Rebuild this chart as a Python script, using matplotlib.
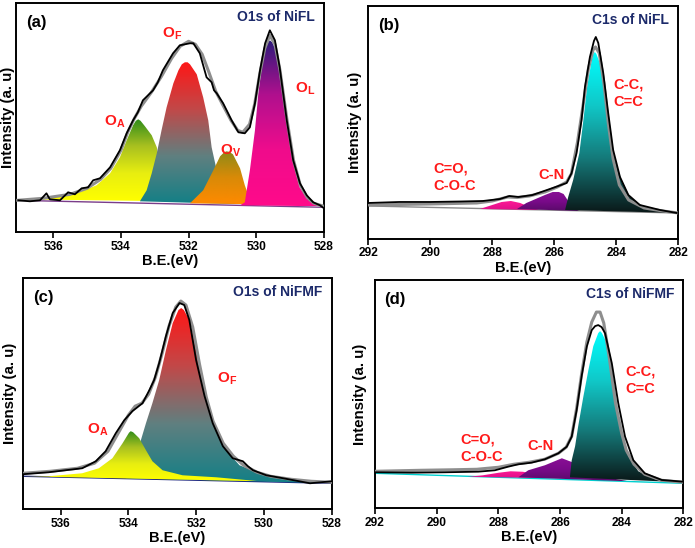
import numpy as np
import matplotlib
matplotlib.use("Agg")
import matplotlib.pyplot as plt
from matplotlib.patches import Polygon
from matplotlib.colors import LinearSegmentedColormap

plt.rcParams['font.family'] = ['Liberation Sans', 'DejaVu Sans']
plt.rcParams['font.weight'] = 'bold'
plt.rcParams['mathtext.fontset'] = 'custom'
plt.rcParams['mathtext.bf'] = 'Liberation Sans:bold'
plt.rcParams['mathtext.rm'] = 'Liberation Sans:bold'

# ---------------- panel (a): O1s of NiFL ----------------
a_raw_x = [537.03, 536.69, 536.39, 536.20, 536.10, 535.80, 535.56, 535.36, 535.16, 534.97,
           534.82, 534.62, 534.32, 534.03, 533.83, 533.64, 533.50, 533.35, 533.05, 532.91,
           532.76, 532.46, 532.26, 531.96, 531.86, 531.67, 531.47, 531.32, 531.25, 531.17,
           530.98, 530.73, 530.53, 530.34, 530.19, 530.04, 529.89, 529.74, 529.60, 529.45,
           529.31, 529.10, 528.91, 528.71, 528.51, 528.32, 528.12, 528.0]
a_raw_y = [32, 31, 32, 39, 33, 32, 40, 38, 44, 45,
           52, 54, 65, 82, 99, 112, 120, 132, 142, 150,
           162, 179, 187, 189, 189, 179, 155, 150, 142, 139,
           129, 112, 100, 99, 105, 129, 162, 189, 202, 192,
           165, 112, 72, 49, 37, 30, 27, 24]
a_env_x = [537.05, 536.3, 535.5, 535.0, 534.6, 534.3, 534.0, 533.8, 533.6, 533.4, 533.1, 532.8,
           532.5, 532.25, 532.0, 531.8, 531.6, 531.4, 531.2, 531.0, 530.75, 530.55, 530.4, 530.2,
           530.05, 529.9, 529.75, 529.6, 529.45, 529.3, 529.1, 528.9, 528.7, 528.5, 528.3, 528.0]
a_env_y = [32, 34, 38, 44, 53, 64, 82, 100, 114, 126, 140, 156,
           174, 186, 191, 188, 178, 160, 141, 128, 112, 102, 100, 108,
           128, 158, 184, 197, 188, 162, 114, 72, 47, 35, 29, 26]
a_base_x = [537.1, 528.0]
a_base_y = [32, 25]

a_OA_x = [537.04, 536.30, 535.31, 534.72, 534.32, 534.03, 533.83, 533.64, 533.56, 533.49,
          533.42, 533.29, 533.09, 532.94, 532.85, 532.75, 532.55, 532.35]
a_OA_y = [33, 34, 39, 47, 59, 75, 92, 107, 111.5, 113, 111.5, 106, 97, 85, 69, 52, 39, 31]
a_OF_x = [533.44, 533.24, 533.09, 532.94, 532.80, 532.65, 532.45, 532.30, 532.20, 532.11,
          532.03, 531.96, 531.76, 531.57, 531.42, 531.32, 531.17, 530.98, 530.68, 530.29]
a_OF_y = [31, 42, 59, 79, 102, 125, 149, 162, 168, 170, 170, 168, 158, 135, 112, 85, 62, 42,
          30, 28]
a_OV_x = [531.96, 531.57, 531.27, 531.07, 530.95, 530.88, 530.80, 530.69, 530.48, 530.34,
          530.19, 530.01]
a_OV_y = [29, 42, 62, 76, 80, 81, 80.5, 78, 64, 47, 33, 28]
a_OL_x = [530.48, 530.34, 530.19, 530.04, 529.94, 529.84, 529.74, 529.67, 529.60, 529.53,
          529.45, 529.31, 529.16, 529.01, 528.87, 528.72, 528.51, 528.22, 528.0]
a_OL_y = [27, 30, 62, 102, 139, 165, 182, 189, 192, 190, 184, 162, 129, 95, 65, 45, 34, 29, 26]

# ---------------- panel (b): C1s of NiFL ----------------
b_raw_x = [292.0, 291.0, 290.0, 289.0, 288.3, 287.75, 287.45, 287.15, 286.7, 286.14, 285.6,
           285.44, 285.28, 285.12, 285.01, 284.85, 284.72, 284.66, 284.58, 284.42, 284.26,
           284.10, 283.88, 283.61, 283.24, 282.59, 282.05]
b_raw_y = [36, 37, 37, 37.5, 38, 40, 43, 42, 44, 50, 56,
           66, 86, 119, 152, 182, 198, 202, 196, 166, 126,
           89, 62, 44, 34, 29, 26]
b_env_x = [292, 290, 288.5, 288, 287.5, 287.2, 286.8, 286.3, 285.9, 285.6, 285.45, 285.25,
           285.05, 284.9, 284.75, 284.67, 284.55, 284.4, 284.25, 284.1, 283.9, 283.6, 283.1,
           282.5, 282]
b_env_y = [34, 35, 36, 38, 42, 41.5, 43, 47, 52, 57, 65, 97,
           138, 170, 189, 192, 186, 156, 114, 80, 54, 39, 31, 28, 26]
b_base_x = [292.0, 282.0]
b_base_y = [33, 26]

b_CO_x = [288.4, 288.0, 287.7, 287.4, 287.1, 286.8, 286.5]
b_CO_y = [30, 34, 37, 38, 36, 32, 29]
b_CN_x = [287.2, 286.9, 286.6, 286.3, 286.05, 285.85, 285.7, 285.55, 285.4, 285.2]
b_CN_y = [30, 36, 40, 44, 47, 47, 45, 38, 31, 28]
b_CC_x = [285.65, 285.55, 285.39, 285.19, 285.06, 284.94, 284.79, 284.74, 284.69, 284.64,
          284.52, 284.36, 284.20, 284.04, 283.83, 283.56, 283.13, 282.37, 282.0]
b_CC_y = [29, 42, 59, 86, 119, 152, 179, 185, 187, 185, 175, 146, 109, 79, 59, 42, 32, 27, 26]

# ---------------- panel (c): O1s of NiFMF ----------------
c_raw_x = [537.12, 536.35, 535.36, 534.96, 534.67, 534.37, 534.12, 533.88, 533.58, 533.38,
           533.24, 533.09, 532.89, 532.69, 532.49, 532.35, 532.20, 532.00, 531.75, 531.51,
           531.21, 530.92, 530.62, 530.47, 530.32, 529.93, 529.43, 528.64, 528.0]
c_raw_y = [35, 37, 41, 48, 58, 76, 89, 98, 106, 119,
           129, 146, 173, 196, 206, 204, 189, 149, 113, 86,
           63, 51, 48, 43, 39, 34, 31, 26, 28]
c_env_x = [537.1, 536.3, 535.5, 535.0, 534.6, 534.3, 534.0, 533.8, 533.6, 533.4, 533.2, 533.0,
           532.8, 532.6, 532.45, 532.3, 532.1, 531.9, 531.7, 531.5, 531.2, 530.9, 530.6, 530.2,
           529.8, 529.2, 528.6, 528.0]
c_env_y = [36, 38, 41, 46, 58, 76, 94, 103, 106, 115, 132, 156,
           183, 202, 208, 204, 182, 145, 112, 88, 66, 53, 44, 37,
           33, 30, 28, 27]
c_base_x = [537.1, 528.0]
c_base_y = [33, 26]

c_OF_x = [534.08, 533.93, 533.78, 533.63, 533.48, 533.29, 533.09, 532.89, 532.69, 532.52,
          532.44, 532.36, 532.20, 532.00, 531.80, 531.61, 531.41, 531.11, 530.72, 530.12,
          529.43, 528.64, 528.0]
c_OF_y = [31, 34, 49, 69, 86, 106, 129, 159, 186, 199, 201, 199,
          189, 159, 129, 99, 79, 59, 44, 36, 31, 28, 26]
c_OA_x = [537.1, 536.35, 535.36, 534.87, 534.47, 534.17, 533.98, 533.93, 533.86, 533.68,
          533.48, 533.29, 532.99, 532.40, 531.41, 530.12]
c_OA_y = [33, 33, 36, 41, 51, 66, 76.5, 78, 77, 71, 59, 48, 39, 34, 32, 28]

# ---------------- panel (d): C1s of NiFMF ----------------
d_raw_x = [292.0, 290.81, 289.73, 288.65, 288.11, 287.68, 287.35, 286.92, 286.49, 286.05,
           285.78, 285.62, 285.46, 285.30, 285.13, 284.97, 284.86, 284.76, 284.65, 284.54,
           284.32, 284.11, 283.89, 283.62, 283.25, 282.70, 282.0]
d_raw_y = [36, 35.6, 36, 36.6, 38, 41.6, 44, 45.6, 49, 55,
           61.6, 71.6, 98, 131.6, 161.6, 178, 182, 183, 181, 175,
           145, 105, 71.6, 48, 35, 28.3, 26.6]
d_env_x = [292, 290.5, 289.5, 288.7, 288, 287.5, 287.0, 286.5, 286.05, 285.8, 285.62, 285.46,
           285.3, 285.13, 284.97, 284.82, 284.7, 284.58, 284.4, 284.2, 284.0, 283.85, 283.6,
           283.25, 282.7, 282]
d_env_y = [37, 38, 38.5, 39, 41, 44, 46, 49, 55, 61, 72, 100,
           134, 166, 186, 196, 196, 185, 150, 105, 75, 58, 44,
           34, 28, 26]
d_base_x = [292.0, 282.0]
d_base_y = [35, 25]

d_CO_x = [289.0, 288.5, 288.0, 287.6, 287.2, 286.8, 286.4, 286.0]
d_CO_y = [31.5, 33, 35.5, 37, 36.5, 34, 32, 30]
d_CN_x = [287.35, 287.03, 286.49, 285.94, 285.51, 285.08, 284.32, 283.78]
d_CN_y = [31, 38, 43, 50, 45, 37, 30, 27]
d_CC_x = [285.68, 285.62, 285.51, 285.41, 285.24, 285.08, 284.92, 284.76, 284.70, 284.64,
          284.48, 284.32, 284.16, 284.00, 283.78, 283.46, 282.92, 282.05]
d_CC_y = [31, 48, 62, 82, 112, 138, 162, 175, 177, 175, 165, 138, 105, 75, 52, 37, 29, 26]

# gradient colours, bottom -> top
g_OA = ['#ffff00', '#e8ee10', '#a8c020', '#2a8a1a']
g_OF = ['#137f86', '#5f8080', '#c24848', '#ff1616']
g_OV = ['#ff8a00', '#d88a08', '#8a8a18']
g_OL = ['#ff0a8a', '#f00c8c', '#b0108e', '#2a1a7a']
g_CC = ['#0a1818', '#157878', '#10c8c8', '#00ffff']
g_CN = ['#5a0a6a', '#7a0a8a', '#8a1096']
g_CO = ['#e0108a', '#ff1a96']

RED = '#ff1a1a'
NAVY = '#1c2a6a'


def grad_fill(ax, x, y, colors, z):
    poly = Polygon(np.column_stack([x, y]), closed=True, facecolor='none',
                   edgecolor='none')
    ax.add_patch(poly)
    cmap = LinearSegmentedColormap.from_list('g', colors)
    im = ax.imshow(np.linspace(0, 1, 256).reshape(-1, 1), cmap=cmap, aspect='auto',
                   origin='lower', extent=[min(x), max(x), min(y), max(y)],
                   interpolation='bilinear', zorder=z)
    im.set_clip_path(poly)


def setup(ax, xlim, ylim, ticks, letter, title, base_color, bx, by, ylab_x):
    ax.plot(bx, by, color=base_color, lw=1.0, zorder=1)
    ax.set_xlim(*xlim)
    ax.set_ylim(*ylim)
    ax.set_xticks(ticks)
    ax.set_xticklabels([str(t) for t in ticks], fontsize=8.6, fontweight='bold')
    ax.set_yticks([])
    ax.tick_params(axis='x', direction='out', length=4, width=1.2, pad=2)
    for s in ax.spines.values():
        s.set_linewidth(1.4)
    ax.set_xlabel('B.E.(eV)', fontsize=10.5, fontweight='bold', labelpad=1)
    ax.set_ylabel('Intensity (a. u)', fontsize=10.8, fontweight='bold')
    ax.yaxis.set_label_coords(ylab_x, 0.5)
    ax.text(0.065, 0.915, letter, transform=ax.transAxes, fontsize=12,
            fontweight='bold', ha='center', va='center')
    ax.text(0.97, 0.94, title, transform=ax.transAxes, fontsize=10,
            fontweight='bold', color=NAVY, ha='right', va='center')


def curves(ax, rx, ry, ex, ey):
    ax.plot(ex, ey, color='#8e8e8e', lw=2.2, zorder=5)
    ax.plot(rx, ry, color='black', lw=1.3, zorder=6)


fig = plt.figure(figsize=(6.95, 5.48), dpi=100)

# (a)
ax = fig.add_axes([0.0230, 0.5761, 0.4432, 0.4179])
grad_fill(ax, a_OA_x, a_OA_y, g_OA, 2)
grad_fill(ax, a_OF_x, a_OF_y, g_OF, 2.1)
grad_fill(ax, a_OV_x, a_OV_y, g_OV, 2.2)
grad_fill(ax, a_OL_x, a_OL_y, g_OL, 2.3)
curves(ax, a_raw_x, a_raw_y, a_env_x, a_env_y)
setup(ax, (537.1, 528.0), (0, 229), [536, 534, 532, 530, 528], '(a)', 'O1s of NiFL',
      '#7a3d8a', a_base_x, a_base_y, -0.002)
ax.text(532.49, 198, r'$\mathbf{O_F}$', color=RED, fontsize=11, ha='center', va='center')
ax.text(534.18, 110, r'$\mathbf{O_A}$', color=RED, fontsize=11, ha='center', va='center')
ax.text(530.75, 81, r'$\mathbf{O_V}$', color=RED, fontsize=11, ha='center', va='center')
ax.text(528.57, 143, r'$\mathbf{O_L}$', color=RED, fontsize=11, ha='center', va='center')

# (b)
ax = fig.add_axes([0.5299, 0.5639, 0.4460, 0.4252])
grad_fill(ax, b_CO_x, b_CO_y, g_CO, 2)
grad_fill(ax, b_CN_x, b_CN_y, g_CN, 2.1)
grad_fill(ax, b_CC_x, b_CC_y, g_CC, 2.2)
curves(ax, b_raw_x, b_raw_y, b_env_x, b_env_y)
setup(ax, (292, 282), (0, 233), [292, 290, 288, 286, 284, 282], '(b)', 'C1s of NiFL',
      '#8a8a8a', b_base_x, b_base_y, -0.02)
ax.text(284.1, 146, 'C-C,\nC=C', color=RED, fontsize=10.5, fontweight='bold',
        ha='left', va='center', linespacing=1.3)
ax.text(289.91, 62, 'C=O,\nC-O-C', color=RED, fontsize=10.5, fontweight='bold',
        ha='left', va='center', linespacing=1.3)
ax.text(286.1, 64, 'C-N', color=RED, fontsize=10.5, fontweight='bold',
        ha='center', va='center')

# (c)
ax = fig.add_axes([0.0335, 0.0706, 0.4437, 0.4221])
grad_fill(ax, c_OF_x, c_OF_y, g_OF, 2)
grad_fill(ax, c_OA_x, c_OA_y, g_OA, 2.1)
curves(ax, c_raw_x, c_raw_y, c_env_x, c_env_y)
setup(ax, (537.1, 528.0), (0, 231), [536, 534, 532, 530, 528], '(c)', 'O1s of NiFMF',
      '#1a237e', c_base_x, c_base_y, -0.02)
ax.text(531.10, 130, r'$\mathbf{O_F}$', color=RED, fontsize=11, ha='center', va='center')
ax.text(534.89, 79, r'$\mathbf{O_A}$', color=RED, fontsize=11, ha='center', va='center')

# (d)
ax = fig.add_axes([0.5396, 0.0724, 0.4436, 0.4166])
grad_fill(ax, d_CO_x, d_CO_y, g_CO, 2)
grad_fill(ax, d_CN_x, d_CN_y, g_CN, 2.1)
grad_fill(ax, d_CC_x, d_CC_y, g_CC, 2.2)
curves(ax, d_raw_x, d_raw_y, d_env_x, d_env_y)
setup(ax, (292, 282), (0, 228), [292, 290, 288, 286, 284, 282], '(d)', 'C1s of NiFMF',
      '#00d0d0', d_base_x, d_base_y, -0.026)
ax.text(283.89, 128, 'C-C,\nC=C', color=RED, fontsize=10.5, fontweight='bold',
        ha='left', va='center', linespacing=1.3)
ax.text(289.24, 60, 'C=O,\nC-O-C', color=RED, fontsize=10.5, fontweight='bold',
        ha='left', va='center', linespacing=1.3)
ax.text(286.62, 62, 'C-N', color=RED, fontsize=10.5, fontweight='bold',
        ha='center', va='center')

fig.savefig('out.png', dpi=100)
